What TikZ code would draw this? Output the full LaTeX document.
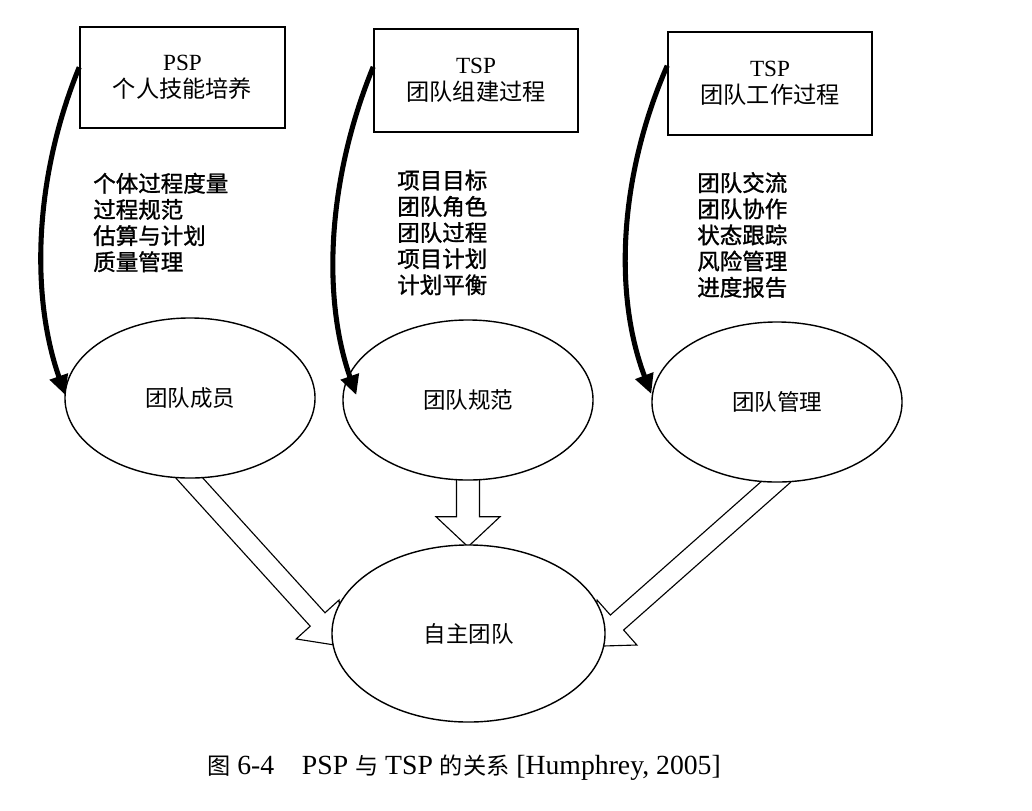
\documentclass[tikz,border=0pt]{standalone}
\usepackage{fontspec}
\setmainfont{Liberation Serif}
\newfontfamily\cjk{Noto Sans CJK SC}
\newfontfamily\cjkheavy{Noto Sans CJK SC}[FakeBold=1.2]
\newcommand\zhcap[1]{{\cjk\fontsize{16.5}{19}\selectfont #1}}
\usetikzlibrary{shapes.geometric,arrows.meta,calc,backgrounds}
\begin{document}
\begin{tikzpicture}[x=0.025cm,y=-0.025cm,
  boxnode/.style={draw, line width=1.1pt, minimum width=5.1cm, minimum height=2.575cm, align=center, inner sep=0pt, font=\fontsize{16.5}{19}\selectfont},
  listnode/.style={anchor=west, align=left, inner sep=0pt, font=\cjkheavy\fontsize{16}{18.6}\selectfont},
  ellnode/.style={ellipse, draw, line width=1pt, fill=white, minimum width=6.25cm, minimum height=4cm, inner sep=0pt, font=\cjk\fontsize{16}{18}\selectfont},
  curvearrow/.style={line width=3.6pt, -{Triangle[length=14pt,width=13pt]}},
  blockarrow/.style={draw, line width=0.8pt, fill=white, line join=miter},
  captext/.style={inner sep=0pt, font=\fontsize{19.7}{21}\selectfont}
]
\useasboundingbox (0,0) rectangle (1032,810);

% top boxes
\node[boxnode, minimum width=5.125cm, minimum height=2.525cm] (b1) at (182.5,77.5) {PSP\\{\cjk 个人技能培养}};
\node[boxnode] (b2) at (476,80.5) {TSP\\{\cjk 团队组建过程}};
\node[boxnode] (b3) at (770,83.5) {TSP\\{\cjk 团队工作过程}};

% lists
\node[listnode] (l1) at (93,222.5) {个体过程度量\\过程规范\\估算与计划\\质量管理};
\node[listnode] (l2) at (397,232.5) {项目目标\\团队角色\\团队过程\\项目计划\\计划平衡};
\node[listnode] (l3) at (697,235) {团队交流\\团队协作\\状态跟踪\\风险管理\\进度报告};

% ellipses
\node[ellnode] (e1) at (190,398) {团队成员};
\node[ellnode] (e2) at (468,400) {团队规范};
\node[ellnode] (e3) at (777,402) {团队管理};
\node[ellnode, minimum width=6.825cm, minimum height=4.425cm] (e4) at (468.5,633.5) {自主团队};

% block arrows (behind ellipses)
\begin{scope}[on background layer]
  \fill[white] (0,0) rectangle (1032,810);
  \draw[blockarrow, shift={(e1.south)}, rotate=-47.8]
    (-12,-10) -- (190,-10) -- (190,-29) -- (226,0) -- (190,29) -- (190,10) -- (-12,10) -- cycle;
  \draw[blockarrow, shift={(e2.south)}, rotate=-90]
    (-12,-11.5) -- (36,-11.5) -- (36,-32) -- (66,0) -- (36,32) -- (36,11.5) -- (-12,11.5) -- cycle;
  \draw[blockarrow, shift={($(e3.south)+(-2,0)$)}, rotate=-138.5]
    (-12,-10) -- (211,-10) -- (211,-30) -- (247,0) -- (211,30) -- (211,10) -- (-12,10) -- cycle;
\end{scope}

% curved arrows
\draw[curvearrow] ($(b1.north west)!0.4!(b1.south west)$) .. controls +(-45,110) and +(-35,-100) .. ($(e1.west)+(1,-3)$);
\draw[curvearrow] ($(b2.north west)!0.37!(b2.south west)$) .. controls +(-45,110) and +(-35,-100) .. ($(e2.west)+(14,-5)$);
\draw[curvearrow] ($(b3.north west)!0.33!(b3.south west)$) .. controls +(-48,110) and +(-38,-100) .. ($(e3.west)+(0,-8)$);

% caption
\node[captext] (cap) at (464,768) {\zhcap{图} 6-4\quad PSP \zhcap{与} TSP \zhcap{的关系} [Humphrey, 2005]};
\end{tikzpicture}
\end{document}
